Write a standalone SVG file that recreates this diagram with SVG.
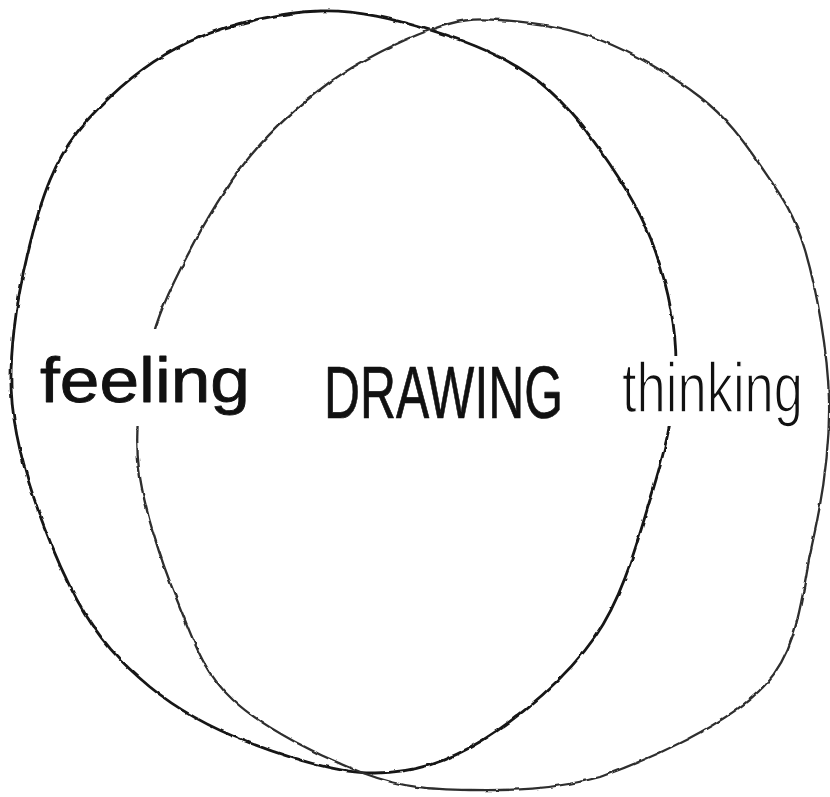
<svg xmlns="http://www.w3.org/2000/svg" width="830" height="797" viewBox="0 0 830 797">
  <style>
    .ring { fill: none; stroke-linecap: round; stroke-linejoin: round; }
    .left { stroke: #151515; stroke-width: 2.8; }
    .right { stroke: #2e2e2e; stroke-width: 2.3; }
    .label { font-family: "Liberation Sans", "DejaVu Sans", sans-serif; fill: #111; stroke-linejoin: round; }
  </style>
  <defs>
    <filter id="pencil" x="-5%" y="-5%" width="110%" height="110%">
      <feTurbulence type="fractalNoise" baseFrequency="0.09" numOctaves="2" seed="3" result="n"/>
      <feDisplacementMap in="SourceGraphic" in2="n" scale="3" xChannelSelector="R" yChannelSelector="G"/>
    </filter>
    <mask id="gaps" maskUnits="userSpaceOnUse" x="0" y="0" width="830" height="797">
      <rect x="0" y="0" width="830" height="797" fill="#fff"/>
      <rect x="125" y="329" width="45" height="97" fill="#000"/>
      <rect x="650" y="356" width="40" height="70" fill="#000"/>
    </mask>
  </defs>
  <rect width="830" height="797" fill="#fff"/>
  <g mask="url(#gaps)" filter="url(#pencil)">
    <g id="feeling-circle">
      <path class="ring left" d="M 320 11 C 358.3 9.8, 395 19.3, 430 30 C 465 40.7, 501.7 55, 530 75 C 558.3 95, 579.2 120.8, 600 150 C 620.8 179.2, 642.3 213.3, 655 250 C 667.7 286.7, 676.8 328.3, 676 370 C 675.2 411.7, 663.5 455.5, 650 500 C 636.5 544.5, 622.8 597, 595 637 C 567.2 677, 519.7 717.3, 483 740 C 446.3 762.7, 413.8 772.5, 375 773 C 336.2 773.5, 287.5 757.3, 250 743 C 212.5 728.7, 178.8 710.8, 150 687 C 121.2 663.2, 98.7 639.5, 77 600 C 55.3 560.5, 30.5 495, 20 450 C 9.5 405, 9 375, 14 330 C 19 285, 34 218.8, 50 180 C 66 141.2, 85 120.8, 110 97 C 135 73.2, 165 51.3, 200 37 C 235 22.7, 281.7 12.2, 320 11 Z"/>
    </g>
    <g id="thinking-circle">
      <path class="ring right" d="M 500 20 C 528.3 21.7, 566.7 27.2, 600 40 C 633.3 52.8, 673.3 76.2, 700 97 C 726.7 117.8, 742.5 139.5, 760 165 C 777.5 190.5, 793.5 210.8, 805 250 C 816.5 289.2, 827.8 350.8, 829 400 C 830.2 449.2, 822.7 497.5, 812 545 C 801.3 592.5, 800.3 646.3, 765 685 C 729.7 723.7, 649.2 759.5, 600 777 C 553 790, 509.5 790.7, 470 790 C 430.5 789.3, 402.5 788, 363 773 C 323.5 758, 264 728.8, 233 700 C 202 671.2, 192.7 638.3, 177 600 C 161.3 561.7, 144 510, 139 470 C 134 430, 140.2 393.3, 147 360 C 153.8 326.7, 163.3 303.3, 180 270 C 196.7 236.7, 222 191.3, 247 160 C 272 128.7, 299.5 104.7, 330 82 C 360.5 60.3, 401.7 40.3, 430 30 C 458.3 19.7, 471.7 18.3, 500 20 Z"/>
    </g>
  </g>
  <g id="feeling">
    <text class="label" transform="translate(40 402) scale(1 1.05)" x="0" y="0" font-size="60" stroke="#111" stroke-width="0.8" textLength="210" lengthAdjust="spacingAndGlyphs">feeling</text>
  </g>
  <g id="drawing">
    <text class="label" transform="translate(324 418) scale(1 1.48)" x="0" y="0" font-size="50" stroke="#111" stroke-width="0.5" textLength="239" lengthAdjust="spacingAndGlyphs">DRAWING</text>
  </g>
  <g id="thinking">
    <text class="label" transform="translate(622 412) scale(1 1.35)" x="0" y="0" font-size="52" fill="#222" stroke="#fff" stroke-width="1.2" textLength="181" lengthAdjust="spacingAndGlyphs">thinking</text>
  </g>
</svg>
